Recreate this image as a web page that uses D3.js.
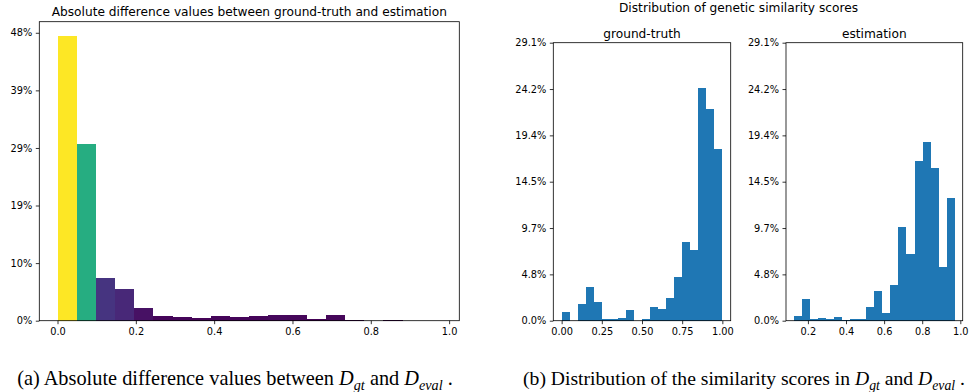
<!DOCTYPE html>
<html><head><meta charset="utf-8">
<script src="https://cdn.jsdelivr.net/npm/d3@7"></script>
<style>body{margin:0;background:#fff}svg{display:block}</style>
</head><body>
<svg id="c" width="971" height="392"></svg>
<script>
// ---------- data ----------
// (a) absolute difference histogram: bin edges and percentages
const absEdges = [0,0.049,0.098,0.147,0.196,0.245,0.294,0.343,0.392,0.441,0.490,0.538,0.587,0.636,0.685,0.734,0.783,0.832,0.881,0.930,0.979];
const absPct   = [47.85,29.7,7.15,5.3,2.2,0.74,0.57,0.5,0.74,0.57,0.74,1.0,0.9,0.35,0.9,0.15,0.0,0.15,0.0,0.0];
const absYTicks = [0,9.67,19.34,29.0,38.67,48.34];
const absYLabels = ["0%","10%","19%","29%","39%","48%"];
const absXTicks = [0,0.2,0.4,0.6,0.8,1.0];
const absXLabels = ["0.0","0.2","0.4","0.6","0.8","1.0"];

// (b) ground-truth similarity histogram
const gtEdges = [0,0.05,0.1,0.15,0.2,0.25,0.3,0.35,0.4,0.45,0.5,0.55,0.6,0.65,0.7,0.75,0.8,0.85,0.9,0.95,1.0];
const gtPct   = [0.94,0,1.71,3.56,1.96,0.21,0.14,0.31,1.15,0,0.21,1.4,1.19,2.34,4.6,8.2,7.43,24.33,22.16,18.0];
const gtXTicks = [0,0.25,0.5,0.75,1.0];
const gtXLabels = ["0.00","0.25","0.50","0.75","1.00"];

// (b) estimation similarity histogram
const estEdges = [0.127,0.169,0.211,0.253,0.296,0.338,0.380,0.422,0.464,0.507,0.549,0.591,0.633,0.675,0.717,0.760,0.802,0.844,0.886,0.928,0.970];
const estPct   = [0.52,2.24,0.15,0.31,0.15,0.38,0.1,0.21,0.21,1.4,3.1,0.77,3.74,9.84,6.95,16.7,18.67,15.95,5.59,12.8];
const estXTicks = [0.2,0.4,0.6,0.8,1.0];
const estXLabels = ["0.2","0.4","0.6","0.8","1.0"];

const simYTicks = [0,4.85,9.7,14.55,19.4,24.25,29.1];
const simYLabels = ["0.0%","4.8%","9.7%","14.5%","19.4%","24.2%","29.1%"];

// ---------- drawing ----------
const svg = d3.select("#c");
const FONT = "DejaVu Sans";
const TICK_FS = 9.8;
const TITLE_FS = 12.2;

function panel(o){
  const g = svg.append("g");
  const x = d3.scaleLinear().domain(o.xDomain).range([o.x0, o.x1]);
  const y = d3.scaleLinear().domain(o.yDomain).range([o.y1, o.y0]);
  const bins = o.pct.map((v,i)=>({x0:o.edges[i], x1:o.edges[i+1], v}));
  g.selectAll("rect.bar").data(bins.filter(d=>d.v>0)).join("rect")
    .attr("class","bar")
    .attr("x", d=>x(d.x0)).attr("width", d=>x(d.x1)-x(d.x0))
    .attr("y", d=>y(d.v)).attr("height", d=>y(0)-y(d.v))
    .attr("fill", d=>o.color(d))
    .attr("shape-rendering","crispEdges");
  const xa = d3.axisBottom(x).tickValues(o.xTicks).tickFormat((d,i)=>o.xLabels[i])
    .tickSizeInner(3.5).tickSizeOuter(0).tickPadding(3.5);
  const ya = d3.axisLeft(y).tickValues(o.yTicks).tickFormat((d,i)=>o.yLabels[i])
    .tickSizeInner(3.5).tickSizeOuter(0).tickPadding(3.5);
  const gx = g.append("g").attr("transform",`translate(0,${o.y1})`).call(xa);
  const gy = g.append("g").attr("transform",`translate(${o.x0},0)`).call(ya);
  [gx,gy].forEach(a=>{
    a.select(".domain").remove();
    a.selectAll("line").attr("stroke","#000").attr("stroke-width",0.8);
    a.selectAll("text").attr("font-family",FONT).attr("font-size",TICK_FS).attr("fill","#000");
  });
  g.append("rect").attr("x",o.x0).attr("y",o.y0).attr("width",o.x1-o.x0).attr("height",o.y1-o.y0)
    .attr("fill","none").attr("stroke","#000").attr("stroke-width",0.8);
  if(o.title){
    g.append("text").attr("x",(o.x0+o.x1)/2).attr("y",o.titleY).attr("text-anchor","middle")
      .attr("font-family",FONT).attr("font-size",TITLE_FS).attr("fill","#000").text(o.title);
  }
  return g;
}

const absMax = d3.max(absPct);
panel({
  x0:39.3, x1:459.3, y0:21.7, y1:320.7,
  xDomain:[-0.0465,1.026], yDomain:[0,50.2],
  edges:absEdges, pct:absPct,
  xTicks:absXTicks, xLabels:absXLabels, yTicks:absYTicks, yLabels:absYLabels,
  color:d=>d3.interpolateViridis(d.v/absMax),
  title:"Absolute difference values between ground-truth and estimation", titleY:15.5
});

panel({
  x0:553.3, x1:730.7, y0:42.7, y1:320.7,
  xDomain:[-0.052,1.052], yDomain:[0,29.1],
  edges:gtEdges, pct:gtPct,
  xTicks:gtXTicks, xLabels:gtXLabels, yTicks:simYTicks, yLabels:simYLabels,
  color:()=>"#1f77b4",
  title:"ground-truth", titleY:37.5
});

panel({
  x0:786, x1:962.7, y0:42.7, y1:320.7,
  xDomain:[0.085,1.0125], yDomain:[0,29.1],
  edges:estEdges, pct:estPct,
  xTicks:estXTicks, xLabels:estXLabels, yTicks:simYTicks, yLabels:simYLabels,
  color:()=>"#1f77b4",
  title:"estimation", titleY:37.5
});

svg.append("text").attr("x",738.5).attr("y",11.5).attr("text-anchor","middle")
  .attr("font-family",FONT).attr("font-size",TITLE_FS).attr("fill","#000")
  .text("Distribution of genetic similarity scores");

// captions
function caption(cx, targetW, parts){
  const t = svg.append("text").attr("x",cx).attr("y",385).attr("text-anchor","middle")
    .attr("font-family","Liberation Serif").attr("font-size",18).attr("fill","#000");
  let shifted = false;
  parts.forEach(p=>{
    if(typeof p === "string"){
      const s = t.append("tspan").text(p);
      if(shifted){ s.attr("dy",-4.5); shifted=false; }
    } else {
      const m = t.append("tspan").attr("font-style","italic").text(p.m);
      if(shifted){ m.attr("dy",-4.5); }
      t.append("tspan").attr("font-style","italic").attr("font-size","0.7em").attr("dy",4.5).text(p.s);
      shifted = true;
    }
  });
  const w = t.node().getComputedTextLength();
  if(w>0) t.attr("font-size", 18*targetW/w);
}
caption(235, 436, ["(a) Absolute difference values between ", {m:"D",s:"gt"}, " and ", {m:"D",s:"eval"}, " ."]);
caption(744, 442, ["(b) Distribution of the similarity scores in ", {m:"D",s:"gt"}, " and ", {m:"D",s:"eval"}, " ."]);
</script>
</body></html>
